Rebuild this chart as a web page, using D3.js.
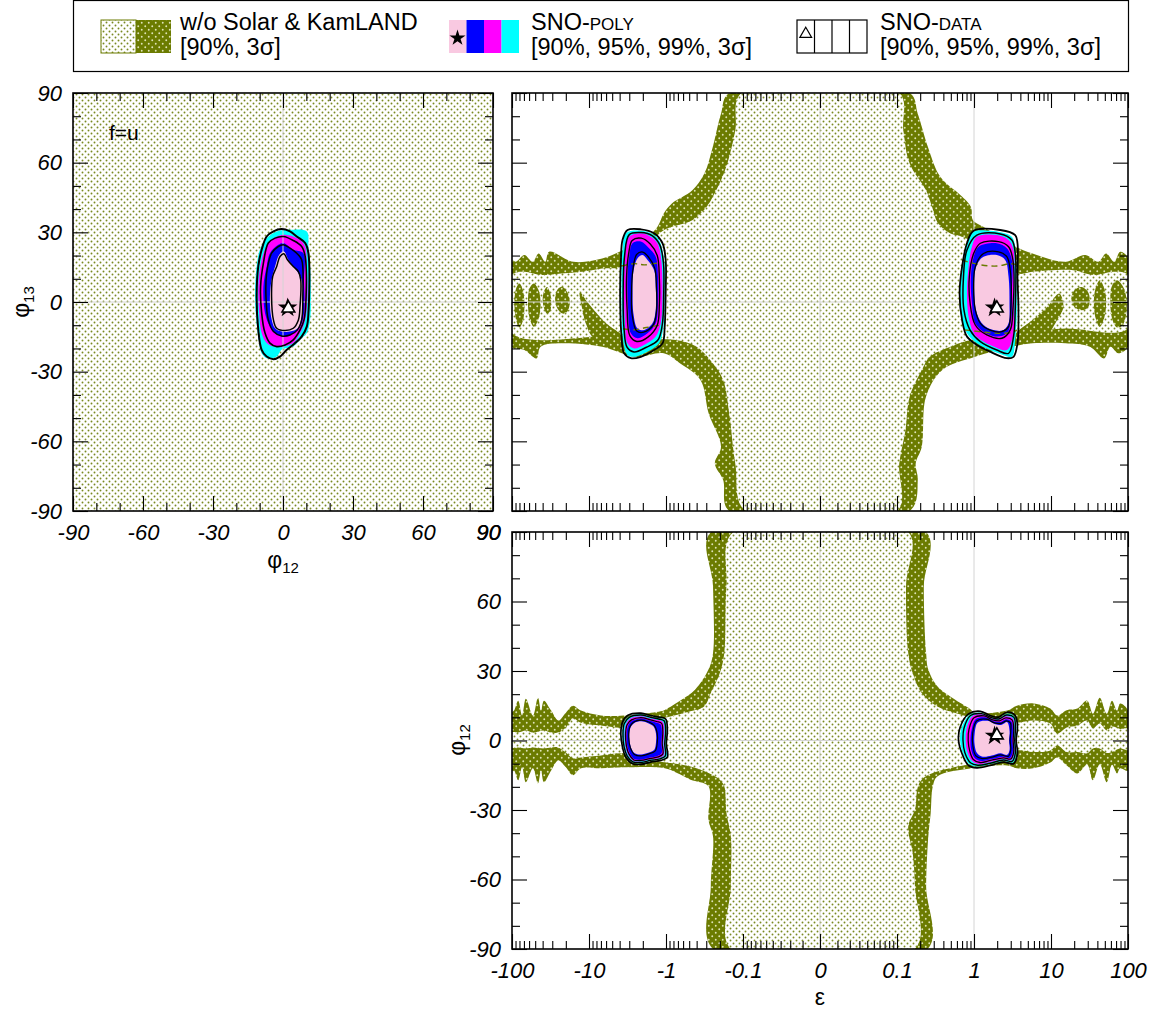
<!DOCTYPE html>
<html><head><meta charset="utf-8">
<script src="https://cdn.jsdelivr.net/npm/d3@7"></script>
<style>
body{margin:0;background:#fff}
svg{display:block}
text{font-family:"Liberation Sans",Arial,Helvetica,sans-serif}
</style>
</head><body>
<script>
// ================= DATA =================
// axis ticks
const phiMajor = [-90,-60,-30,0,30,60,90];
const phiMinor = [-80,-70,-50,-40,-20,-10,10,20,40,50,70,80];
const epsMajor = [-100,-10,-1,-0.1,0,0.1,1,10,100];
const epsMajorLabels = ["-100","-10","-1","-0.1","0","0.1","1","10","100"];
const epsMinorMantissa = [1,2,3,4,5,6,7,8,9];
const epsMinorDecades = [0.01,0.1,1,10];

// legend
const legendTitles = ["w/o Solar & KamLAND","SNO-","SNO-"];
const legendCaps = ["","POLY","DATA"];
const legendLevels = ["[90%, 3\u03c3]","[90%, 95%, 99%, 3\u03c3]","[90%, 95%, 99%, 3\u03c3]"];
const polyColors = ["#f9c9e1","#0000ff","#ff00ff","#00ffff"]; // 90%,95%,99%,3sigma
const olive = "#6b7b00";

// best fits
const polyBest = [{eps:1.85, phi12:2.0, phi13:-2.5}];
const dataBest = [{eps:1.98, phi12:2.3, phi13:-2.7}];

// ---------- top-left panel (phi12, phi13) ----------
const tlNoSolar90 = [[-90,-90],[90,-90],[90,90],[-90,90]];
const tlPoly3s = [[-7.0,27.5],[-2.7,30.4],[3.0,31.1],[10.2,30.4],[10.9,23.9],[11.6,15.3],[11.9,2.4],[11.6,-7.7],[10.2,-13.4],[7.3,-16.3],[4.4,-19.2],[-0.6,-20.6],[-2.7,-23.5],[-7.0,-24.2],[-9.15,-22.1],[-10.2,-17.7],[-11.3,-9.1],[-12.0,2.4],[-11.3,15.3],[-9.9,22.5]];
const tlPoly99 = [[-6.3,25.4],[-2.7,28.2],[1.6,28.9],[7.3,26.8],[9.5,23.9],[10.2,15.3],[10.5,2.4],[9.5,-7.7],[7.3,-13.4],[4.4,-17.7],[0.15,-19.2],[-4.1,-19.2],[-7.0,-17.7],[-9.15,-13.4],[-10.2,-4.8],[-10.6,6.7],[-9.15,18.2]];
const tlPoly95 = [[-5.6,21.0],[-2.0,24.6],[0.15,25.4],[4.4,22.5],[8.7,21.0],[9.0,9.5],[9.0,-4.8],[7.3,-10.6],[4.4,-13.4],[0.15,-14.9],[-3.4,-13.4],[-5.6,-10.6],[-7.7,-4.8],[-8.4,6.7],[-7.0,15.3]];
const tlPoly90 = [[-3.4,15.3],[-1.6,20.3],[0.4,21.8],[2.3,18.2],[6.6,12.4],[8.0,9.5],[8.5,2.4],[8.0,-6.3],[6.3,-11.3],[3.0,-12.7],[-0.6,-12.7],[-3.4,-11.3],[-5.1,-6.3],[-5.6,2.4],[-4.9,9.5]];
const tlData3s = [[-7.0,28.2],[-4.1,30.4],[-0.6,31.4],[3.0,30.4],[5.9,28.2],[9.5,25.4],[10.9,21.0],[10.9,-4.8],[10.2,-10.6],[8.0,-14.9],[5.2,-17.7],[1.6,-20.6],[-1.3,-23.5],[-4.1,-24.6],[-7.0,-23.5],[-9.15,-20.6],[-10.6,-12.0],[-11.3,2.4],[-10.6,15.3],[-9.15,22.5]];
const tlData99 = [[-6.3,25.4],[-3.4,27.5],[0.15,28.2],[4.4,26.5],[8.0,23.9],[9.5,19.6],[9.9,2.4],[9.0,-7.7],[7.3,-12.0],[4.4,-16.3],[0.9,-18.5],[-2.7,-19.2],[-5.6,-17.7],[-7.7,-13.4],[-9.15,-4.8],[-9.6,6.7],[-8.4,16.7]];
const tlData95 = [[-4.9,21.0],[-2.0,23.9],[0.15,24.6],[3.0,23.2],[5.9,21.0],[8.0,18.2],[8.5,2.4],[8.0,-7.7],[6.2,-12.0],[3.0,-14.2],[-0.6,-14.6],[-4.1,-12.7],[-6.3,-7.7],[-7.3,2.4],[-7.0,12.4]];
const tlData90 = [[-2.7,15.3],[-1.3,19.6],[0.4,20.8],[1.9,18.2],[4.4,15.3],[6.6,13.1],[7.6,9.5],[7.3,-1.9],[6.6,-7.7],[4.4,-11.3],[0.9,-12.3],[-2.7,-11.3],[-4.1,-7.7],[-4.9,2.4],[-4.4,11.0]];

// ---------- top-right panel (eps, phi13) ----------
const trNoSolar3s = [[-0.151,90],[-0.193,81.1],[-0.247,66.8],[-0.318,55.3],[-0.455,48.1],[-0.839,42.4],[-1.07,38.1],[-1.29,32.4],[-1.75,28.0],[-3.65,22.3],[-6.75,18.7],[-15.9,17.3],[-33,21.6],[-37,17.3],[-45,20.9],[-54,17.3],[-69,20.2],[-89,17.3],[-100,18],
 [-100,-19.3],[-69,-20.7],[-48,-24.3],[-42.5,-19.3],[-23,-17.8],[-6.75,-19.3],[-2.5,-23.6],[-1.07,-22.1],[-0.66,-26.4],[-0.357,-33.6],[-0.279,-48.0],[-0.193,-62.3],[-0.232,-69.5],[-0.181,-76.6],[-0.151,-90],
 [0.146,-90],[0.186,-76.6],[0.175,-69.5],[0.21,-62.3],[0.238,-40.8],[0.388,-29.3],[1.035,-23.6],[3.12,-19.3],[5.75,-17.8],[15.3,-17.8],[31.9,-19.3],[49,-24.3],[59,-19.3],[75,-22.1],[100,-19.3],
 [100,19],[79,21.6],[66,17.3],[52,20.9],[41,17.3],[28,20.2],[15.3,17.3],[5.75,20.9],[3.52,23.7],[2.16,28.0],[1.32,32.4],[0.97,35.2],[0.91,41.0],[0.632,46.7],[0.438,51.0],[0.343,55.3],[0.252,66.8],[0.186,81.1],[0.146,90]];
const trNoSolar90 = [[-0.105,90],[0.107,90],[0.121,73.9],[0.146,59.6],[0.238,48.1],[0.285,41.0],[0.343,33.8],[0.495,29.5],[0.716,28.0],[2.0,20],[3.74,12.3],[5.75,13.0],[19.5,13.7],[36,11.6],[66,13.0],[100,11.6],
 [100,-11.4],[15.3,-11.4],[5.75,-13],[3.74,-15],[0.91,-16.4],[0.495,-19.3],[0.268,-23.6],[0.21,-29.3],[0.146,-40.8],[0.129,-55.1],[0.107,-69.5],[0.101,-90],
 [-0.093,-90],[-0.126,-69.5],[-0.151,-48.0],[-0.181,-33.6],[-0.247,-26.4],[-0.40,-19.3],[-0.743,-16.4],[-2.0,-16],[-3.89,-14.3],[-100,-13.5],
 [-100,11.6],[-69,13.0],[-42.5,11.6],[-23,12.3],[-12.4,13.0],[-6.75,14.4],[-3.89,15.1],[-2.0,22],[-1.07,30.9],[-0.455,35.2],[-0.296,41.0],[-0.247,45.3],[-0.193,52.4],[-0.160,59.6],[-0.126,73.9]];
const trNoSolar3sPatches = [
 [[-93,0],[-88,6],[-80,8],[-72,5],[-69,-2],[-72,-8],[-80,-11],[-88,-8]],
 [[-62,0],[-59,6],[-52,8],[-45,5],[-42.5,-1],[-45,-7],[-52,-10.7],[-59,-7]],
 [[-40,1],[-38,5],[-35,6.5],[-32,4],[-31,0],[-32,-4],[-35,-5],[-38,-3]],
 [[-27.5,1],[-25.5,5.5],[-22,6.5],[-19,4],[-17.8,0],[-19,-4],[-22,-5],[-25.5,-3]],
 [[-13.2,4.4],[-10.5,0],[-8.6,-3.5],[-6.0,-9.2],[-3.65,-15],[-8.6,-15.5],[-11,-9.2],[-12.4,-2.1]],
 [[12.8,3.7],[14.5,-2],[12,-7.8],[8.3,-15],[3.52,-15.5],[3.52,-13.5],[5.75,-7.8],[9,-2]],
 [[18.4,1.5],[20,5],[25,6.5],[30,4.5],[31.9,1],[30,-2.5],[25,-3.5],[20,-2]],
 [[36,0],[38,6],[43,9.4],[49,6],[52,0],[49,-7],[43,-10.7],[38,-7]],
 [[59,0],[62,7],[72,9.4],[85,7],[95,2],[95,-5],[85,-10],[72,-11],[62,-7]]
];
const trNoSolarDashed = [
 [[-3.8,15.5],[-2.6,16.5],[-1.9,16],[-1.2,17]],
 [[-3.6,-11.5],[-2.6,-12],[-1.8,-11],[-1.2,-10]],
 [[0.7,18],[1.2,16],[2.0,15.5],[3.0,16.5],[3.6,16]],
 [[0.75,-12],[1.4,-13],[2.2,-13.5],[3.2,-13],[3.6,-12]]
];
// left island
const trLPoly3s = [[-3.33,29.6],[-2.12,30.7],[-1.50,29.3],[-1.23,26.7],[-1.06,18.1],[-1.04,3.7],[-1.08,-10.6],[-1.23,-17.8],[-1.74,-21.4],[-2.60,-23.6],[-3.16,-22.9],[-3.57,-17.8],[-3.78,3.7],[-3.67,22.4]];
const trLPoly99 = [[-3.01,28.1],[-2.12,29.6],[-1.58,28.1],[-1.29,25.3],[-1.15,18.1],[-1.11,3.7],[-1.17,-9.2],[-1.36,-14.9],[-1.93,-18.5],[-2.60,-20.0],[-3.16,-17.8],[-3.43,-7.7],[-3.50,10.9],[-3.33,22.4]];
const trLPoly95 = [[-2.72,25.3],[-2.12,26.0],[-1.66,23.1],[-1.36,19.5],[-1.27,10.9],[-1.27,-0.6],[-1.36,-9.2],[-1.74,-13.5],[-2.34,-15.6],[-2.86,-13.5],[-3.10,-3.4],[-3.16,10.9],[-3.01,19.5]];
const trLPoly90 = [[-2.34,18.8],[-2.02,20.2],[-1.74,18.1],[-1.43,13.8],[-1.36,6.6],[-1.36,-3.4],[-1.50,-9.2],[-1.93,-12.1],[-2.34,-11.4],[-2.65,-4.9],[-2.72,3.7],[-2.67,12.4]];
const trLData3s = [[-3.16,31.0],[-2.12,31.3],[-1.43,29.6],[-1.11,25.3],[-1.01,18.1],[-1.01,3.7],[-1.04,-10.6],[-1.11,-17.8],[-1.43,-20.7],[-2.12,-23.6],[-2.86,-24.2],[-3.50,-22.1],[-3.78,-14.9],[-3.94,3.7],[-3.85,18.1],[-3.67,26.7]];
const trLData99 = [[-3.0,29.0],[-2.12,29.9],[-1.5,28.5],[-1.2,24.5],[-1.08,17],[-1.07,3.7],[-1.12,-10],[-1.28,-16.5],[-1.8,-19.5],[-2.6,-21.5],[-3.2,-19.5],[-3.5,-12],[-3.6,4],[-3.45,20]];
const trLData95 = [[-2.75,26.5],[-2.1,27.5],[-1.6,25],[-1.3,20],[-1.22,10],[-1.22,-1],[-1.3,-10],[-1.7,-15],[-2.4,-17],[-2.95,-14.5],[-3.2,-3],[-3.25,11],[-3.05,21]];
const trLData90 = [[-2.4,20.5],[-2.0,21.5],[-1.7,19.5],[-1.4,14.5],[-1.33,6],[-1.33,-4],[-1.47,-10],[-1.95,-13],[-2.4,-12.5],[-2.75,-5.5],[-2.8,4],[-2.7,13.5]];
// right island
const trRPoly3s = [[0.99,30.3],[1.62,30.7],[2.30,29.9],[3.10,28.1],[3.43,23.8],[3.53,10.9],[3.60,-3.4],[3.43,-16.3],[3.10,-23.6],[2.42,-22.9],[1.62,-20.7],[1.09,-17.8],[0.81,-13.5],[0.68,-6.3],[0.66,3.7],[0.70,16.6],[0.81,25.3]];
const trRPoly99 = [[1.09,28.1],[1.98,28.8],[2.81,26.7],[3.26,22.4],[3.33,10.9],[3.33,-3.4],[3.20,-14.9],[2.67,-20.7],[1.79,-19.2],[1.21,-16.3],[0.99,-13.5],[0.85,-6.3],[0.81,3.7],[0.85,15.2],[0.94,23.8]];
const trRPoly95 = [[1.15,23.8],[1.98,25.3],[2.67,23.1],[3.10,18.1],[3.10,3.7],[3.03,-7.7],[2.67,-13.5],[1.98,-14.9],[1.33,-12.8],[1.04,-9.2],[0.94,-0.6],[0.91,10.9],[0.99,19.5]];
const trRPoly90 = [[1.33,19.5],[1.98,20.2],[2.54,18.1],[2.81,10.9],[2.89,-0.6],[2.81,-9.2],[2.42,-12.1],[1.79,-12.1],[1.33,-9.9],[1.09,-4.9],[1.01,3.7],[1.04,13.8],[1.15,17.4]];
const trRData3s = [[0.99,30.7],[2.19,31.0],[3.43,28.8],[3.67,25.3],[3.67,10.9],[3.78,-3.4],[3.67,-17.8],[3.26,-23.6],[2.67,-24.2],[1.62,-21.4],[1.09,-18.5],[0.81,-14.9],[0.70,-7.7],[0.65,3.7],[0.70,15.2],[0.81,25.3]];
const trRData99 = [[1.09,28.8],[2.19,29.3],[3.10,26.7],[3.43,21],[3.43,-3.4],[3.26,-14.9],[2.81,-22.1],[1.98,-20.7],[1.21,-17.1],[0.89,-12.1],[0.74,-3.4],[0.73,10.9],[0.81,22.4]];
const trRData95 = [[1.21,25.3],[2.08,26.0],[2.81,23.8],[3.2,18.1],[3.2,-3.4],[2.95,-12.1],[2.30,-15.6],[1.47,-14.2],[1.04,-9.9],[0.89,-0.6],[0.87,10.9],[0.99,20.9]];
const trRData90 = [[1.33,20.9],[2.08,21.6],[2.67,19.5],[2.95,13.8],[3.0,-3.4],[2.81,-10.6],[2.30,-12.8],[1.62,-12.1],[1.21,-9.2],[1.04,-3.4],[0.99,6.6],[1.04,15.2]];

// ---------- bottom-right panel (eps, phi12) ----------
const brNoSolar3s = [[-0.262,90],[0.239,90],[0.223,66.5],[0.239,37.8],[0.255,30.6],[0.334,23.4],[0.571,17.6],[0.915,13.3],[0.98,12],[2.7,12.9],[3.6,15],[5.9,16],[9.8,13.8],[12,10.8],[16,13.1],[22,13.8],[29.5,17.2],[35,11.6],[43,18.5],[53,11.6],[62,17.2],[72,12.9],[79,16],[100,13],
 [100,-13],[79,-12],[72,-14.2],[62,-10.5],[53,-18],[43,-10.3],[35,-17.2],[29.5,-10.5],[22,-14.2],[16,-10.8],[12,-7.3],[9.8,-9.5],[5.9,-12],[3.6,-12],[2.7,-10.8],[0.977,-11.9],[0.334,-15.5],[0.292,-19.8],[0.274,-31.3],[0.255,-41.4],[0.239,-63],[0.249,-90],
 [-0.245,-90],[-0.262,-63],[-0.245,-41.4],[-0.281,-34.2],[-0.281,-19.8],[-0.48,-16.9],[-0.718,-14.0],[-1.07,-11.9],[-3.53,-11.6],[-7.0,-12],[-12.7,-12],[-16.2,-15],[-20,-11.6],[-25,-8.6],[-31,-12.9],[-38.5,-18],[-42,-12.9],[-46,-18.5],[-53.5,-12],[-66,-18],[-74,-11.6],[-83,-17.2],[-94,-12.9],[-100,-14],
 [-100,12],[-94,12.9],[-83,17.2],[-74,10.8],[-66,18],[-53.5,10.8],[-46,18.5],[-42,12.9],[-38.5,17.2],[-31,12.9],[-25,8.6],[-20,12],[-16.2,15],[-12.7,12.9],[-7.0,10.8],[-3.53,10.8],[-1.07,13],[-0.937,14.0],[-0.628,17.6],[-0.42,21.9],[-0.281,30.6],[-0.245,37.8],[-0.245,66.5]];
const brNoSolar90 = [[-0.134,90],[0.14,90],[0.131,66.5],[0.14,37.8],[0.16,29.1],[0.209,20.5],[0.334,14.7],[0.571,11.9],[1.5,8.5],[3.6,7.7],[5.9,8.6],[9.8,7.3],[12,3],[16,5.6],[22,6.5],[29.5,8.6],[35,5.2],[43,7.3],[53,4.3],[62,6],[79,5],[100,5],
 [100,-4],[79,-3.5],[62,-5],[53,-5.4],[43,-3.4],[35,-3.4],[29.5,-5.5],[22,-5],[16,-5],[12,-2.2],[9.8,-4.3],[5.9,-5],[3.6,-4.3],[1.5,-8.5],[0.209,-16.9],[0.171,-29.9],[0.14,-37.1],[0.16,-48.6],[0.171,-63],[0.171,-90],
 [-0.144,-90],[-0.144,-63],[-0.144,-41.4],[-0.164,-31.3],[-0.175,-19.8],[-0.2,-16.9],[-0.281,-14.0],[-0.48,-11.2],[-1.5,-8.5],[-3.53,-5.6],[-7.0,-6.5],[-12.7,-7.3],[-16.2,-7.7],[-20,-5.2],[-25,-3],[-31,-3],[-38.5,-3.4],[-53.5,-3],[-66,-3.4],[-83,-3],[-100,-3],
 [-100,3.4],[-83,3.4],[-66,4.3],[-53.5,3.4],[-38.5,4.3],[-31,3.4],[-25,3.4],[-20,5.6],[-16.2,9.5],[-12.7,7.7],[-7.0,6.5],[-3.53,5.6],[-1.5,8.5],[-0.48,12.6],[-0.32,14.7],[-0.262,20.5],[-0.2,29.1],[-0.175,37.8],[-0.164,66.5]];
// left island
const brLPoly3s = [[-3.05,10.3],[-2.12,11.3],[-1.58,10.3],[-1.23,9.6],[-1.03,8.8],[-0.98,4.3],[-1.01,-1.4],[-0.98,-6.8],[-1.17,-8.1],[-1.58,-8.8],[-2.12,-9.8],[-2.72,-9.5],[-3.25,-6.8],[-3.55,-2.9],[-3.7,2.9],[-3.55,7.5]];
const brLPoly99 = [[-2.9,9.5],[-2.12,10.5],[-1.6,9.5],[-1.28,8.8],[-1.1,8],[-1.05,4],[-1.08,-1.4],[-1.06,-6.3],[-1.22,-7.5],[-1.62,-8.2],[-2.12,-9],[-2.65,-8.8],[-3.1,-6.2],[-3.35,-2.7],[-3.45,2.8],[-3.3,7]];
const brLPoly95 = [[-2.75,8.5],[-2.12,9.5],[-1.65,8.6],[-1.35,7.8],[-1.18,7],[-1.13,3.8],[-1.15,-1.2],[-1.14,-5.5],[-1.3,-6.7],[-1.65,-7.4],[-2.12,-8.2],[-2.6,-8],[-2.95,-5.6],[-3.18,-2.4],[-3.25,2.6],[-3.1,6.5]];
const brLPoly90 = [[-2.6,7.5],[-2.1,8.3],[-1.7,7.5],[-1.45,6],[-1.35,3],[-1.35,-1],[-1.42,-4],[-1.7,-5.3],[-2.1,-6],[-2.55,-5.5],[-2.85,-3],[-3.0,1.5],[-2.9,5.5]];
const brLData3s = [[-3.16,10.8],[-2.12,11.8],[-1.58,10.8],[-1.23,10.1],[-1.01,9.3],[-0.96,4.3],[-0.99,-1.4],[-0.96,-7.2],[-1.17,-8.6],[-1.58,-9.3],[-2.12,-10.3],[-2.72,-10.0],[-3.33,-7.2],[-3.67,-2.9],[-3.86,2.9],[-3.67,7.9]];
const brLData99 = [[-3.0,10],[-2.12,11],[-1.58,10],[-1.25,9.3],[-1.06,8.5],[-1.01,4.2],[-1.04,-1.4],[-1.02,-6.6],[-1.2,-7.9],[-1.6,-8.6],[-2.12,-9.5],[-2.7,-9.2],[-3.2,-6.6],[-3.5,-2.8],[-3.62,2.9],[-3.48,7.3]];
const brLData95 = [[-2.8,8.9],[-2.12,9.9],[-1.62,9],[-1.32,8.2],[-1.14,7.4],[-1.1,3.9],[-1.12,-1.3],[-1.1,-5.9],[-1.26,-7.1],[-1.63,-7.8],[-2.12,-8.6],[-2.62,-8.4],[-3.02,-5.9],[-3.26,-2.5],[-3.35,2.7],[-3.2,6.8]];
const brLData90 = [[-2.65,7.9],[-2.1,8.8],[-1.68,8],[-1.42,6.5],[-1.3,3],[-1.3,-1],[-1.38,-4.5],[-1.68,-5.8],[-2.1,-6.6],[-2.58,-6],[-2.9,-3.2],[-3.05,1.5],[-2.95,5.8]];
// right island
const brRPoly3s = [[0.87,11],[1.21,12],[1.62,10.3],[2.08,9.6],[2.67,11.6],[3.35,10.3],[3.55,5.5],[3.45,0],[3.55,-5.5],[3.2,-9.5],[2.42,-8.8],[1.62,-10.2],[1.09,-11.2],[0.87,-10.2],[0.72,-5.5],[0.66,0],[0.69,5.5]];
const brRPoly99 = [[0.95,10.5],[1.3,11.2],[1.7,9.5],[2.1,9],[2.6,10.5],[3.2,9.5],[3.35,5],[3.3,0],[3.35,-5],[3.05,-8.5],[2.42,-8],[1.62,-9.3],[1.15,-10.2],[0.95,-9],[0.82,-5],[0.78,0],[0.8,5]];
const brRPoly95 = [[1.05,9.2],[1.4,10],[1.8,8.3],[2.2,8],[2.6,9.2],[3.05,8.3],[3.2,4.5],[3.15,0],[3.2,-4.5],[2.95,-7.5],[2.42,-7],[1.7,-8],[1.25,-8.8],[1.02,-7.5],[0.92,-4],[0.9,0],[0.93,4.5]];
const brRPoly90 = [[1.12,7.8],[1.5,8.5],[1.9,7],[2.3,6.8],[2.7,7.9],[2.9,4],[2.85,0],[2.9,-4],[2.7,-6.2],[2.2,-5.5],[1.7,-6.5],[1.3,-7],[1.1,-5.5],[1.02,-2],[1.02,3]];
const brRData3s = [[0.85,11.5],[1.21,12.6],[1.62,10.8],[2.08,10.1],[2.67,12.2],[3.43,10.8],[3.67,5.7],[3.53,0],[3.67,-5.7],[3.26,-10.0],[2.42,-9.3],[1.62,-10.8],[1.09,-11.8],[0.85,-10.8],[0.70,-5.7],[0.63,0],[0.66,5.7]];
const brRData99 = [[0.9,10.8],[1.25,11.6],[1.65,10],[2.1,9.3],[2.65,11],[3.3,10],[3.45,5.2],[3.38,0],[3.45,-5.2],[3.12,-9],[2.42,-8.4],[1.62,-9.8],[1.12,-10.7],[0.9,-9.6],[0.76,-5.2],[0.72,0],[0.74,5.2]];
const brRData95 = [[1.0,9.8],[1.35,10.6],[1.75,8.9],[2.15,8.5],[2.6,9.8],[3.12,8.9],[3.28,4.8],[3.22,0],[3.28,-4.8],[3.0,-8],[2.42,-7.5],[1.65,-8.6],[1.2,-9.5],[0.98,-8.2],[0.88,-4.5],[0.84,0],[0.86,4.8]];
const brRData90 = [[1.08,8.4],[1.45,9.2],[1.85,7.6],[2.25,7.4],[2.65,8.5],[2.98,7.5],[3.0,4],[2.95,0],[3.0,-4],[2.8,-6.8],[2.2,-6.2],[1.7,-7.2],[1.28,-7.8],[1.05,-6.5],[0.97,-2.5],[0.96,3]];

// ================= SCALES =================
// eps axis: one equal segment per decade beyond |eps|=0.1, a compressed log-like segment in [0,0.1]
const epsToU = e => { const a = Math.abs(e), s = e < 0 ? -1 : 1;
  return a >= 0.1 ? s*(2+Math.log10(a)) : s*Math.log(1+50*a)/Math.log(6); };
const tlX = d3.scaleLinear().domain([-90,90]).range([73,493]);
const tlY = d3.scaleLinear().domain([-90,90]).range([511,93]);
const rU  = d3.scaleLinear().domain([-4,4]).range([512,1128]);
const rX  = e => rU(epsToU(e));
const trY = d3.scaleLinear().domain([-90,90]).range([511,93]);
const brY = d3.scaleLinear().domain([-90,90]).range([949,532]);

const FONT = '"Liberation Sans",Arial,Helvetica,sans-serif';
const svg = d3.select("body").append("svg").attr("width",1158).attr("height",1016);
const defs = svg.append("defs");
function dotPattern(id,size,bg,dot,r){
  const p = defs.append("pattern").attr("id",id).attr("width",size).attr("height",size).attr("patternUnits","userSpaceOnUse");
  p.append("rect").attr("width",size).attr("height",size).attr("fill",bg);
  p.append("circle").attr("cx",size/4).attr("cy",size/4).attr("r",r).attr("fill",dot);
  p.append("circle").attr("cx",3*size/4).attr("cy",3*size/4).attr("r",r).attr("fill",dot);
}
dotPattern("lightDots",6,"#ffffff","#7a8a22",0.95);
dotPattern("darkDots",7,olive,"#dfe4b8",0.95);

function makePanel(id,x0,x1,y0,y1){
  defs.append("clipPath").attr("id",id).append("rect").attr("x",x0).attr("y",y0).attr("width",x1-x0).attr("height",y1-y0);
  return svg.append("g").attr("clip-path",`url(#${id})`);
}
const smooth = (xs,ys) => d3.line().x(d=>xs(d[0])).y(d=>ys(d[1])).curve(d3.curveCatmullRomClosed.alpha(0.5));
const openSmooth = (xs,ys) => d3.line().x(d=>xs(d[0])).y(d=>ys(d[1])).curve(d3.curveCatmullRom.alpha(0.5));
const linear = (xs,ys) => d3.line().x(d=>xs(d[0])).y(d=>ys(d[1])).curve(d3.curveLinearClosed);

function fillAll(g,gen,list){ list.forEach(([pts,fill])=>g.append("path").attr("d",gen(pts)).attr("fill",fill)); }
function strokeAll(g,gen,list){ list.forEach(([pts,w])=>g.append("path").attr("d",gen(pts)).attr("fill","none").attr("stroke","#000").attr("stroke-width",w)); }
function markers(g,x,y){
  g.append("path").attr("d",d3.symbol().type(d3.symbolStar).size(120)()).attr("transform",`translate(${x(polyBest[0])},${y(polyBest[0])})`).attr("fill","#000");
  g.append("path").attr("d",d3.symbol().type(d3.symbolTriangle).size(70)()).attr("transform",`translate(${x(dataBest[0])},${y(dataBest[0])})`).attr("fill","#fff").attr("stroke","#000").attr("stroke-width",1.6);
}
function grid(g,vx,vy,x0,x1,y0,y1){
  vx.forEach(x=>g.append("line").attr("x1",x).attr("x2",x).attr("y1",y0).attr("y2",y1).attr("stroke","#d4d4d4").attr("stroke-width",1));
  vy.forEach(y=>g.append("line").attr("x1",x0).attr("x2",x1).attr("y1",y).attr("y2",y).attr("stroke","#d4d4d4").attr("stroke-width",1));
}

// ================= TOP-LEFT =================
{
  const g = makePanel("cTL",73,493,93,511);
  g.append("path").attr("d",linear(tlX,tlY)(tlNoSolar90)).attr("fill","url(#lightDots)");
  const gen = smooth(tlX,tlY);
  fillAll(g,gen,[[tlPoly3s,polyColors[3]],[tlPoly99,polyColors[2]],[tlPoly95,polyColors[1]],[tlPoly90,polyColors[0]]]);
  grid(g,[tlX(0)],[tlY(0)],73,493,93,511);
  strokeAll(g,gen,[[tlData3s,2],[tlData99,1.6],[tlData95,1.5],[tlData90,1.5]]);
  markers(g,d=>tlX(d.phi12),d=>tlY(d.phi13));
}
// ================= TOP-RIGHT =================
{
  const g = makePanel("cTR",512,1128,93,511);
  const gen = smooth(rX,trY);
  g.append("path").attr("d",gen(trNoSolar3s)).attr("fill","url(#darkDots)");
  g.append("path").attr("d",gen(trNoSolar90)).attr("fill","url(#lightDots)");
  trNoSolar3sPatches.forEach(p=>g.append("path").attr("d",gen(p)).attr("fill","url(#darkDots)"));
  grid(g,[rX(0),rX(1)],[trY(0)],512,1128,93,511);
  fillAll(g,gen,[[trLPoly3s,polyColors[3]],[trLPoly99,polyColors[2]],[trLPoly95,polyColors[1]],[trLPoly90,polyColors[0]],
                 [trRPoly3s,polyColors[3]],[trRPoly99,polyColors[2]],[trRPoly95,polyColors[1]],[trRPoly90,polyColors[0]]]);
  const og = openSmooth(rX,trY);
  trNoSolarDashed.forEach(p=>g.append("path").attr("d",og(p)).attr("fill","none").attr("stroke",olive).attr("stroke-width",1.4).attr("stroke-dasharray","6,4"));
  strokeAll(g,gen,[[trLData3s,1.8],[trLData99,1.5],[trLData95,1.4],[trLData90,1.3],[trRData3s,1.8],[trRData99,1.5],[trRData95,1.4],[trRData90,1.3]]);
  markers(g,d=>rX(d.eps),d=>trY(d.phi13));
}
// ================= BOTTOM-RIGHT =================
{
  const g = makePanel("cBR",512,1128,532,949);
  const gen = smooth(rX,brY);
  g.append("path").attr("d",gen(brNoSolar3s)).attr("fill","url(#darkDots)");
  g.append("path").attr("d",gen(brNoSolar90)).attr("fill","url(#lightDots)");
  grid(g,[rX(0),rX(1)],[brY(0)],512,1128,532,949);
  fillAll(g,gen,[[brLPoly3s,polyColors[3]],[brLPoly99,polyColors[2]],[brLPoly95,polyColors[1]],[brLPoly90,polyColors[0]],
                 [brRPoly3s,polyColors[3]],[brRPoly99,polyColors[2]],[brRPoly95,polyColors[1]],[brRPoly90,polyColors[0]]]);
  strokeAll(g,gen,[[brLData3s,1.7],[brLData99,1.4],[brLData95,1.3],[brLData90,1.2],[brRData3s,1.7],[brRData99,1.4],[brRData95,1.3],[brRData90,1.2]]);
  markers(g,d=>rX(d.eps),d=>brY(d.phi12));
}

// ================= AXES =================
const epsMinor = [];
epsMinorDecades.forEach(dec=>epsMinorMantissa.forEach(m=>{ const v=+(m*dec).toPrecision(3); if(!epsMajor.includes(v)){ epsMinor.push(v); epsMinor.push(-v);} }));

function axisSet(xs,ys,x0,x1,y0,y1,xMaj,xMin,yMaj,yMin,xFmt,yFmt,lastXdx){
  const mk = (fn,scale,vals,size,fmt,tx,ty,pad,isX) => {
    const a = fn(scale).tickValues(vals).tickSize(-size).tickPadding(pad).tickFormat(fmt || (()=>""));
    const ga = svg.append("g").attr("transform",`translate(${tx},${ty})`).call(a);
    ga.select(".domain").remove();
    ga.selectAll("line").attr("stroke","#000").attr("stroke-width",1.1);
    ga.selectAll("text").style("font-family",FONT).style("font-size","22px").style("font-style","italic").attr("fill","#000");
    if(isX && fmt && lastXdx) ga.selectAll("text").filter((d,i,n)=>i===n.length-1).attr("dx",lastXdx);
  };
  mk(d3.axisBottom,xs,xMaj,15,xFmt,0,y1,13,true);
  mk(d3.axisBottom,xs,xMin,8,null,0,y1,13);
  mk(d3.axisTop,xs,xMaj,15,null,0,y0,5);
  mk(d3.axisTop,xs,xMin,8,null,0,y0,5);
  mk(d3.axisLeft,ys,yMaj,15,yFmt,x0,0,11);
  mk(d3.axisLeft,ys,yMin,8,null,x0,0,11);
  mk(d3.axisRight,ys,yMaj,15,null,x1,0,5);
  mk(d3.axisRight,ys,yMin,8,null,x1,0,5);
  svg.append("rect").attr("x",x0).attr("y",y0).attr("width",x1-x0).attr("height",y1-y0).attr("fill","none").attr("stroke","#000").attr("stroke-width",1.6);
}
const phiFmt = d => String(d);
axisSet(tlX,tlY,73,493,93,511,phiMajor,phiMinor,phiMajor,phiMinor,phiFmt,phiFmt,-5);
axisSet(rU,trY,512,1128,93,511,epsMajor.map(epsToU),epsMinor.map(epsToU),phiMajor,phiMinor,null,null,0);
axisSet(rU,brY,512,1128,532,949,epsMajor.map(epsToU),epsMinor.map(epsToU),phiMajor,phiMinor,(d,i)=>epsMajorLabels[i],phiFmt,0);

// axis titles
function phiTitle(x,y,sub,rot){
  const t = svg.append("text").attr("transform",`translate(${x},${y})${rot?" rotate(-90)":""}`).attr("text-anchor","middle")
    .style("font-family",FONT).attr("fill","#000");
  t.append("tspan").text("\u03c6").style("font-size","23px");
  t.append("tspan").text(sub).style("font-size","15px").attr("dy",5);
}
phiTitle(283,568,"12",false);
phiTitle(29,302,"13",true);
phiTitle(465,740,"12",true);
svg.append("text").attr("x",820).attr("y",1005).attr("text-anchor","middle").style("font-family",FONT).style("font-size","23px").text("\u03b5");
svg.append("text").attr("x",109).attr("y",140).style("font-family",FONT).style("font-size","21px").text("f=u");

// ================= LEGEND =================
svg.append("rect").attr("x",73.5).attr("y",0.5).attr("width",1055).attr("height",71).attr("fill","#fff").attr("stroke","#000").attr("stroke-width",1.2);
// swatch 1
svg.append("rect").attr("x",101).attr("y",20).attr("width",35).attr("height",33).attr("fill","url(#lightDots)").attr("stroke",olive).attr("stroke-width",1);
svg.append("rect").attr("x",136).attr("y",20).attr("width",35).attr("height",33).attr("fill","url(#darkDots)");
// swatch 2
polyColors.forEach((c,i)=>svg.append("rect").attr("x",449+i*17.5).attr("y",20).attr("width",17.5).attr("height",33).attr("fill",c));
svg.append("path").attr("d",d3.symbol().type(d3.symbolStar).size(80)()).attr("transform","translate(457.5,38)").attr("fill","#000");
// swatch 3
svg.append("rect").attr("x",797).attr("y",20).attr("width",70).attr("height",33).attr("fill","#fff").attr("stroke","#000").attr("stroke-width",1.2);
[1,2,3].forEach(i=>svg.append("line").attr("x1",797+i*17.5).attr("x2",797+i*17.5).attr("y1",20).attr("y2",53).attr("stroke","#000").attr("stroke-width",1.2));
svg.append("path").attr("d",d3.symbol().type(d3.symbolTriangle).size(60)()).attr("transform","translate(805.75,34)").attr("fill","#fff").attr("stroke","#000").attr("stroke-width",1.2);
const legTextX = [180,531,880];
legendTitles.forEach((t,i)=>{
  const tx = svg.append("text").attr("x",legTextX[i]).attr("y",30).style("font-family",FONT).style("font-size","23.5px").attr("fill","#000");
  tx.append("tspan").text(t);
  if(legendCaps[i]) tx.append("tspan").text(legendCaps[i]).style("font-size","17px");
  svg.append("text").attr("x",legTextX[i]).attr("y",55).style("font-family",FONT).style("font-size","23.5px").attr("fill","#000").text(legendLevels[i]);
});
</script>
</body></html>
